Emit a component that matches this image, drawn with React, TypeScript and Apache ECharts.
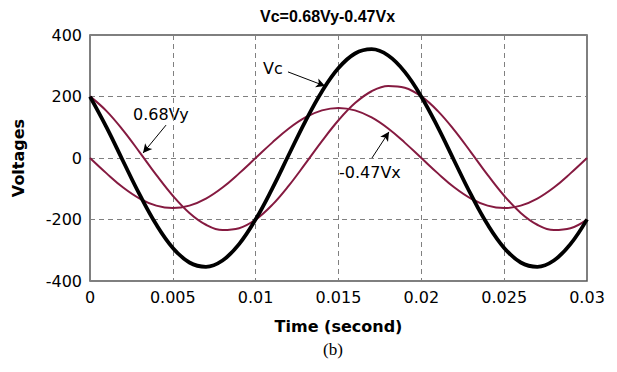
import React, { useEffect, useRef } from "react";
import * as echarts from "echarts";

const times = [0, 0.001, 0.002, 0.003, 0.004, 0.005, 0.006, 0.007, 0.008, 0.009, 0.01, 0.011, 0.012, 0.013, 0.014, 0.015, 0.016, 0.017, 0.018, 0.019, 0.02, 0.021, 0.022, 0.023, 0.024, 0.025, 0.026, 0.027, 0.028, 0.029, 0.03];
const vc = [199.5, 99.4, -10.5, -119.3, -216.5, -292.4, -339.8, -353.8, -333.3, -280.1, -199.5, -99.4, 10.5, 119.3, 216.5, 292.4, 339.8, 353.8, 333.3, 280.1, 199.5, 99.4, -10.5, -119.3, -216.5, -292.4, -339.8, -353.8, -333.3, -280.1, -199.5];
const vy068 = [200.4, 152.6, 89.9, 18.4, -54.9, -122.8, -178.7, -217.1, -234.3, -228.5, -200.4, -152.6, -89.9, -18.4, 54.9, 122.8, 178.7, 217.1, 234.3, 228.5, 200.4, 152.6, 89.9, 18.4, -54.9, -122.8, -178.7, -217.1, -234.3, -228.5, -200.4];
const vx047 = [0, -50, -96, -132, -155, -163, -155, -132, -96, -50, 0, 50, 96, 132, 155, 163, 155, 132, 96, 50, 0, -50, -96, -132, -155, -163, -155, -132, -96, -50, 0];

const titleText = "Vc=0.68Vy-0.47Vx";
const xName = "Time (second)";
const yName = "Voltages";
const caption = "(b)";

const FONT = "'Liberation Sans', Arial, sans-serif";
const WIDE = "'DejaVu Sans', Verdana, sans-serif";
const RED = "#851a40";

const pair = (xs: number[], ys: number[]) => xs.map((x, i) => [x, ys[i]]);

export default function App() {
  const ref = useRef<HTMLDivElement>(null);
  useEffect(() => {
    document.body.style.margin = "0";
    const chart = echarts.init(ref.current!, null, { renderer: "svg" });
    const arrow = (a: number[], b: number[]) => [{ coord: a }, { coord: b }];
    const arrowLine = (a: number[], b: number[]) => ({
      silent: true,
      symbol: ["none", "arrow"],
      symbolSize: [7, 9],
      label: { show: false },
      lineStyle: { color: "#000", width: 1, type: "solid" },
      data: [arrow(a, b)],
    });
    chart.setOption({
      animation: false,
      title: {
        text: titleText,
        left: 255,
        top: 3,
        textStyle: { fontFamily: FONT, fontWeight: "bold", fontSize: 16, color: "#000" },
      },
      grid: {
        left: 90,
        top: 35,
        width: 497,
        height: 246,
        show: true,
        borderColor: "#555",
        borderWidth: 1.5,
        backgroundColor: "transparent",
      },
      xAxis: {
        type: "value",
        min: 0,
        max: 0.03,
        interval: 0.005,
        name: xName,
        nameLocation: "middle",
        nameGap: 37,
        nameTextStyle: { fontFamily: WIDE, fontWeight: "bold", fontSize: 16, color: "#000" },
        axisLine: { show: false },
        axisTick: { show: false },
        axisLabel: {
          margin: 8,
          fontFamily: WIDE,
          fontSize: 16,
          color: "#000",
          formatter: (v: number) => String(+v.toFixed(3)),
        },
        splitLine: { show: true, lineStyle: { color: "#808080", width: 1, type: [5, 4] } },
      },
      yAxis: {
        type: "value",
        min: -400,
        max: 400,
        interval: 200,
        name: yName,
        nameLocation: "middle",
        nameGap: 64,
        nameRotate: 90,
        nameTextStyle: { fontFamily: WIDE, fontWeight: "bold", fontSize: 16, color: "#000" },
        axisLine: { show: false },
        axisTick: { show: false },
        axisLabel: { margin: 8, fontFamily: WIDE, fontSize: 16, color: "#000" },
        splitLine: { show: true, lineStyle: { color: "#808080", width: 1, type: [5, 4] } },
      },
      series: [
        {
          type: "line",
          data: pair(times, vx047),
          smooth: 0.4,
          showSymbol: false,
          lineStyle: { color: RED, width: 2 },
          markLine: arrowLine([0.01702, 0], [0.01805, 85]),
        },
        {
          type: "line",
          data: pair(times, vy068),
          smooth: 0.4,
          showSymbol: false,
          lineStyle: { color: RED, width: 2 },
          markLine: arrowLine([0.00459, 107], [0.0032, 16]),
        },
        {
          type: "line",
          data: pair(times, vc),
          smooth: 0.4,
          showSymbol: false,
          lineStyle: { color: "#000", width: 3.8 },
          markLine: arrowLine([0.01195, 280], [0.01419, 234]),
        },
      ],
      graphic: [
        { type: "text", left: 263, top: 60, style: { text: "Vc", font: `16px ${WIDE}`, fill: "#000" } },
        { type: "text", left: 133, top: 106, style: { text: "0.68Vy", font: `16px ${WIDE}`, fill: "#000" } },
        { type: "text", left: 339, top: 164, style: { text: "-0.47Vx", font: `16px ${WIDE}`, fill: "#000" } },
        { type: "text", left: 323, top: 341, style: { text: caption, font: "17px 'Liberation Serif', 'Times New Roman', serif", fill: "#000" } },
      ],
    });
    return () => chart.dispose();
  }, []);
  return <div ref={ref} style={{ width: 617, height: 372 }} />;
}
